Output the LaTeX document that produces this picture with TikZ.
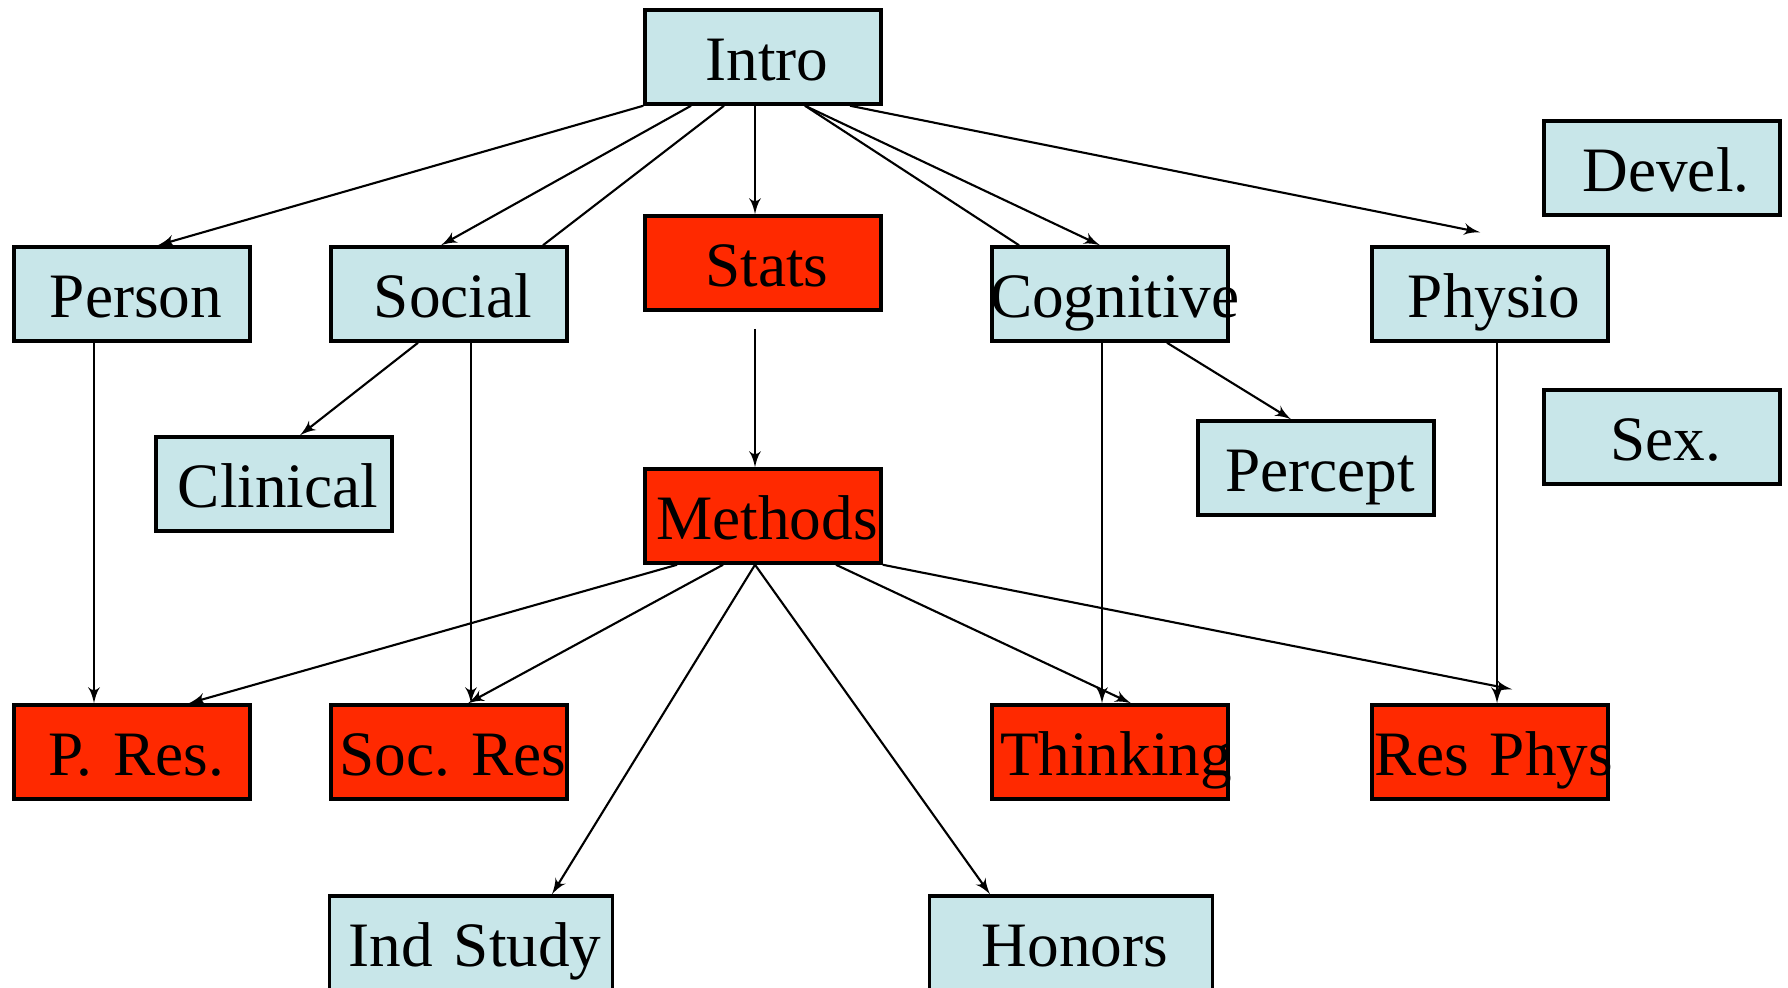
\documentclass[tikz,border=0pt]{standalone}
\usepackage{fontspec}
\setmainfont{Liberation Serif}
\usepackage{tikz}
\usetikzlibrary{shapes,arrows,calc}
\definecolor{paleblue}{RGB}{200,230,233}
\definecolor{hotred}{RGB}{255,41,0}
\tikzstyle{block} = [rectangle, draw, line width=1pt, fill=paleblue, text width=2.36cm, minimum height=0.94cm, inner sep=0pt, align=center, text height=0.58cm, text depth=0.11cm, font=\fontsize{18}{22}\selectfont, execute at begin node={\hyphenpenalty=10000\relax\hspace*{0.08cm}}]
\tikzstyle{core} = [block, fill=hotred]
\tikzstyle{wide} = [block, text width=2.83cm]
\tikzstyle{arrow} = [draw, line width=0.6pt, -latex']
\tikzstyle{link} = [draw, line width=0.6pt]

\begin{document}
\begin{tikzpicture}
      \useasboundingbox (0,0) rectangle (17.88,-9.87);
      \node [block] at ( 7.63, -0.57) (intro) {Intro};
      \node [block] at ( 1.32, -2.94) (person) {Person};
      \node [block] at ( 4.49, -2.94) (social) {Social};
      \node [core]  at ( 7.63, -2.63) (stats) {Stats};
      \node [block] at (11.10, -2.94) (cog) {\hspace*{-0.1cm}Cognitive};
      \node [block] at (14.90, -2.94) (physio) {Physio};
      \node [block] at (16.62, -1.68) (devel) {Devel.};
      \node [block] at (16.62, -4.37) (sex) {Sex.};
      \node [block] at ( 2.74, -4.84) (clin) {Clinical};
      \node [block] at (13.16, -4.68) (percept) {Percept};
      \node [core]  at ( 7.63, -5.16) (methods) {Methods};
      \node [core]  at ( 1.32, -7.52) (pres) {P.~Res.};
      \node [core]  at ( 4.49, -7.52) (socres) {Soc.~Res};
      \node [core]  at (11.10, -7.52) (think) {Thinking};
      \node [core]  at (14.90, -7.52) (resphys) {\hspace*{-0.06cm}Res~Phys};
      \node [wide]  at ( 4.71, -9.43) (indstudy) {Ind~Study};
      \node [wide]  at (10.71, -9.43) (honors) {Honors};
      % from intro
      \path [arrow] (intro.south west) -- ($(person.north) + (0.26, 0)$);
      \path [arrow] ($(intro.south) + (-0.72, 0)$) -- ($(social.north) + (-0.08, 0)$);
      \path [link]  ($(intro.south) + (-0.39, 0)$) -- ($(social.north) + (0.94, 0)$);
      \path [arrow] ($(intro.south) + (-0.08, 0)$) -- ($(stats.north) + (-0.08, 0)$);
      \path [arrow] ($(intro.south) + (0.42, 0)$) -- ($(cog.north) + (-0.10, 0)$);
      \path [link]  ($(intro.south) + (0.42, 0)$) -- ($(cog.north) + (-0.91, 0)$);
      \path [arrow] ($(intro.south) + (0.87, 0)$) -- ($(physio.north) + (-0.10, 0.13)$);
      \path [arrow] ($(stats.south) + (-0.08, -0.17)$) -- ($(methods.north) + (-0.08, 0)$);
      % second row down
      \path [arrow] ($(social.south) + (-0.31, 0)$) -- ($(clin.north) + (0.26, 0)$);
      \path [arrow] ($(social.south) + (0.22, 0)$) -- ($(socres.north) + (0.22, 0)$);
      \path [arrow] ($(person.south) + (-0.38, 0)$) -- ($(pres.north) + (-0.38, 0)$);
      \path [arrow] ($(cog.south) + (0.57, 0)$) -- ($(percept.north) + (-0.25, 0)$);
      \path [arrow] ($(cog.south) + (-0.08, 0)$) -- ($(think.north) + (-0.08, 0)$);
      \path [arrow] ($(physio.south) + (0.07, 0)$) -- ($(resphys.north) + (0.07, 0)$);
      % from methods
      \path [arrow] ($(methods.south) + (-0.86, 0)$) -- ($(pres.north) + (0.57, 0)$);
      \path [arrow] ($(methods.south) + (-0.40, 0)$) -- ($(socres.north) + (0.19, 0)$);
      \path [arrow] ($(methods.south) + (-0.08, 0)$) -- ($(indstudy.north) + (0.81, 0)$);
      \path [arrow] ($(methods.south) + (-0.08, 0)$) -- ($(honors.north) + (-0.81, 0)$);
      \path [arrow] ($(methods.south) + (0.73, 0)$) -- ($(think.north) + (0.21, 0)$);
      \path [arrow] (methods.south east) -- ($(resphys.north) + (0.22, 0.14)$);
    \end{tikzpicture}
\end{document}
